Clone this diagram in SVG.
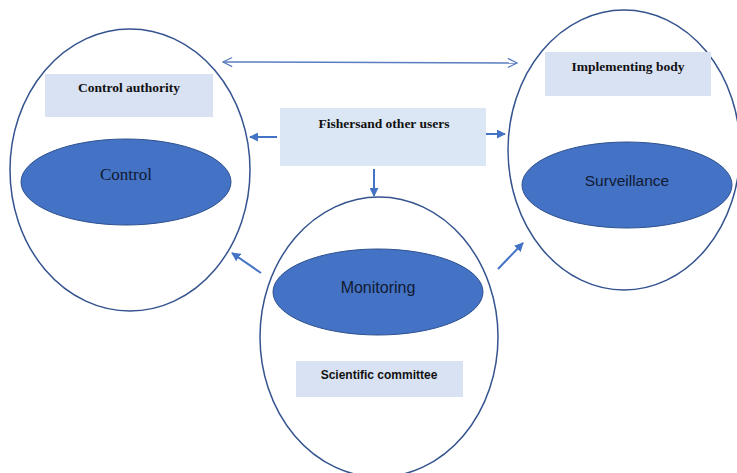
<svg xmlns="http://www.w3.org/2000/svg" width="737" height="473" viewBox="0 0 737 473">
<style>
.outer{fill:none;stroke:#34538F;stroke-width:1.5}
.inner{fill:#4472C4;stroke:#2F528F;stroke-width:1}
.box{fill:#D9E2F3}
.fbox{fill:#DCE7F5}
.lbl{font-family:"Liberation Serif",serif;font-weight:bold;font-size:13.5px;fill:#111;text-anchor:middle;dominant-baseline:central}
.sans{font-family:"Liberation Sans",Arial,sans-serif;text-anchor:middle;dominant-baseline:central;fill:#111a33}
.serif{font-family:"Liberation Serif","Times New Roman",serif;font-size:17px;text-anchor:middle;dominant-baseline:central;fill:#111a33}
.conn{stroke:#4472C4;stroke-width:2;fill:none}
.thin{stroke:#5A7DBF;stroke-width:1.5;fill:none}
</style>
<defs>
<marker id="ah" viewBox="0 0 10 10" refX="9" refY="5" markerWidth="4.5" markerHeight="4.5" orient="auto-start-reverse" markerUnits="strokeWidth">
<path d="M0,0 L10,5 L0,10 z" fill="#4472C4"/>
</marker>
<marker id="open" viewBox="0 0 12 12" refX="11" refY="6" markerWidth="11" markerHeight="11" orient="auto-start-reverse" markerUnits="userSpaceOnUse">
<path d="M1,1 L11,6 L1,11" fill="none" stroke="#5A7DBF" stroke-width="1.3"/>
</marker>
</defs>
<rect width="737" height="473" fill="#fff"/>
<g id="control-node">
<ellipse class="outer" cx="130" cy="170" rx="120" ry="141"/>
<rect class="box" x="45" y="74" width="168" height="43"/>
<text class="lbl" x="129" y="87">Control authority</text>
<ellipse class="inner" cx="126" cy="182" rx="105" ry="43"/>
<text class="serif" x="126" y="174">Control</text>
</g>
<g id="surveillance-node">
<ellipse class="outer" cx="624" cy="150" rx="116" ry="140"/>
<rect class="box" x="545" y="52" width="166" height="44"/>
<text class="lbl" x="628" y="66">Implementing body</text>
<ellipse class="inner" cx="627" cy="185" rx="105" ry="43"/>
<text class="sans" x="627" y="180" style="font-size:15.5px">Surveillance</text>
</g>
<g id="monitoring-node">
<ellipse class="outer" cx="379" cy="337" rx="119" ry="140"/>
<ellipse class="inner" cx="378" cy="292" rx="105" ry="43"/>
<text class="sans" x="378" y="287" style="font-size:16px">Monitoring</text>
<rect class="box" x="296" y="361" width="167" height="36"/>
<text class="sans" x="379" y="375" style="font-size:12px;font-weight:bold;fill:#111">Scientific committee</text>
</g>
<g id="fishers-node">
<rect class="fbox" x="280" y="108" width="206" height="58"/>
<text class="lbl" x="384" y="123">Fishersand other users</text>
</g>
<g id="connectors">
<line class="thin" x1="223" y1="62" x2="517" y2="63" marker-start="url(#open)" marker-end="url(#open)"/>
<line class="conn" x1="277" y1="137" x2="250" y2="137" marker-end="url(#ah)"/>
<line class="conn" x1="486" y1="134" x2="505" y2="134" marker-end="url(#ah)"/>
<line class="conn" x1="374" y1="169" x2="374" y2="196" marker-end="url(#ah)"/>
<line class="conn" x1="261" y1="273" x2="232" y2="253" marker-end="url(#ah)"/>
<line class="conn" x1="498" y1="269" x2="523" y2="243" marker-end="url(#ah)"/>
</g>
</svg>
